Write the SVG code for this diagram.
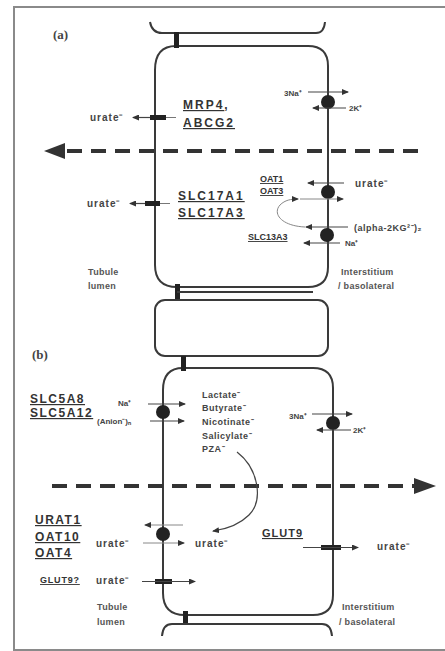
<svg xmlns="http://www.w3.org/2000/svg" width="445" height="651" viewBox="0 0 445 651">
<defs>
<marker id="ah" markerWidth="7" markerHeight="6" refX="6" refY="3" orient="auto" markerUnits="userSpaceOnUse"><path d="M0,0 L7,3 L0,6 z" fill="#333"/></marker>
<style>
.mem{fill:none;stroke:#3a3a3a;stroke-width:2}
.blk{fill:#222}
.ar{stroke:#444;stroke-width:1.2;fill:none;marker-end:url(#ah)}
.arl{stroke:#888;stroke-width:1;fill:none;marker-end:url(#ah)}
.ln{stroke:#777;stroke-width:1;fill:none}
.dash{stroke:#333;stroke-width:4;stroke-dasharray:15 9;fill:none}
.t{font-family:"Liberation Sans",Arial,sans-serif;font-weight:bold;fill:#333}
.big{font-size:12px;letter-spacing:2px;text-decoration:underline}
.mid{font-size:9px;text-decoration:underline}
.sm{font-size:8px;fill:#444}
.u{font-size:10px;letter-spacing:1px;fill:#444}
.sub{font-size:9px;letter-spacing:0.5px;fill:#444}
.loc{font-size:9px;fill:#555;letter-spacing:0.3px}
.pl{font-family:"Liberation Serif","Times New Roman",serif;font-size:13px;font-weight:bold;fill:#444}
</style>
</defs>
<rect x="0" y="0" width="445" height="651" fill="#fff"/>
<rect x="14" y="7" width="440" height="643" fill="#fff" stroke="#8a8a8a" stroke-width="2"/>

<g id="panel-a-cell">
<path class="mem" d="M150,22 Q152,33 162,33 H316 Q324,33 325,22"/>
<path class="mem" d="M176,46 H308 Q328,46 328,66 V267 Q328,287 308,287 H177 Q155,287 155,265 V70 Q155,46 176,46 Z"/>
<rect class="blk" x="174" y="32" width="5" height="16"/>
<rect class="blk" x="175" y="284" width="5" height="15"/>
<path class="mem" d="M177,292 H313"/>
<rect class="mem" x="155" y="300" width="173" height="56" rx="10"/>
<text class="pl" x="53" y="39">(a)</text>
</g>

<g id="panel-b-cell">
<path class="mem" d="M183,368 H313 Q333,368 333,388 V595 Q333,615 313,615 H185 Q163,615 163,593 V390 Q163,368 183,368 Z"/>
<rect class="blk" x="181" y="356" width="5" height="15"/>
<rect class="blk" x="183" y="611" width="5" height="14"/>
<path class="mem" d="M162,636 Q163,624 172,624 H322 Q331,624 332,636"/>
<text class="pl" x="32" y="359">(b)</text>
</g>

<g id="connectors">
<path class="dash" d="M418,151 H62"/>
<polygon points="44,151 65,143 65,159" fill="#333"/>
<path class="dash" d="M52,486 H414"/>
<polygon points="436,486 414,478 414,494" fill="#333"/>
</g>

<g id="mrp4">
<rect class="blk" x="150" y="115" width="16" height="5"/>
<path class="ar" d="M150,117.5 H133"/>
<path class="ln" d="M166,117.5 H176"/>
<text class="t u" x="90" y="121">urate⁻</text>
<text class="t big" x="183" y="109">MRP4<tspan style="letter-spacing:0">,</tspan></text>
<text class="t big" x="183" y="127">ABCG2</text>
</g>

<g id="nak-a">
<circle class="blk" cx="328" cy="102" r="7"/>
<path class="ar" d="M308,92 H348"/>
<path class="ar" d="M346,108 H313"/>
<text class="t sm" x="284" y="96">3Na⁺</text>
<text class="t sm" x="349" y="111">2K⁺</text>
</g>

<g id="slc17a">
<rect class="blk" x="145" y="201" width="15" height="5"/>
<path class="ar" d="M145,203.5 H130"/>
<path class="ln" d="M160,203.5 H170"/>
<text class="t u" x="87" y="207">urate⁻</text>
<text class="t big" x="178" y="200">SLC17A1</text>
<text class="t big" x="178" y="217">SLC17A3</text>
</g>

<g id="oat13">
<circle class="blk" cx="328" cy="192" r="7"/>
<path class="ar" d="M344,183 H308"/>
<path class="arl" d="M300,199 H343"/>
<path class="arl" d="M305,227 C282,226 272,214 280,205 C285,200 291,199 298,199"/>
<text class="t u" x="355" y="187">urate⁻</text>
<text class="t mid" x="260" y="182">OAT1</text>
<text class="t mid" x="260" y="194">OAT3</text>
</g>

<g id="slc13a3">
<circle class="blk" cx="327" cy="235" r="7"/>
<path class="ar" d="M348,227 H306"/>
<path class="ar" d="M340,243 H304" stroke-width="1.6"/>
<text class="t sub" x="354" y="231">(alpha-2KG²⁻)₂</text>
<text class="t sm" x="345" y="246">Na⁺</text>
<text class="t mid" x="248" y="240">SLC13A3</text>
</g>

<g id="loc-a">
<text class="t loc" x="88" y="275">Tubule</text>
<text class="t loc" x="88" y="289">lumen</text>
<text class="t loc" x="341" y="275">Interstitium</text>
<text class="t loc" x="338" y="289">/ basolateral</text>
</g>

<g id="slc5a">
<circle class="blk" cx="163" cy="412" r="7"/>
<path class="ar" d="M148,404 H185"/>
<path class="ar" d="M150,421 H184"/>
<text class="t sm" x="118" y="406">Na⁺</text>
<text class="t sm" x="97" y="424">(Anion⁻)ₙ</text>
<text class="t big" x="30" y="403" style="letter-spacing:1.5px">SLC5A8</text>
<text class="t big" x="30" y="417" style="letter-spacing:1.5px">SLC5A12</text>
<text class="t sub" x="202" y="398">Lactate⁻</text>
<text class="t sub" x="202" y="411">Butyrate⁻</text>
<text class="t sub" x="202" y="425">Nicotinate⁻</text>
<text class="t sub" x="202" y="439">Salicylate⁻</text>
<text class="t sub" x="202" y="452">PZA⁻</text>
<path class="ar" d="M237,452 C258,468 264,500 249,515 C240,524 228,529 213,531"/>
</g>

<g id="nak-b">
<circle class="blk" cx="333" cy="423" r="7"/>
<path class="ar" d="M312,414 H352"/>
<path class="ar" d="M351,430 H317"/>
<text class="t sm" x="289" y="419">3Na⁺</text>
<text class="t sm" x="353" y="433">2K⁺</text>
</g>

<g id="urat1">
<circle class="blk" cx="163" cy="534" r="7"/>
<path class="arl" d="M183,525 H145"/>
<path class="arl" d="M143,543 H184"/>
<text class="t u" x="96" y="547">urate⁻</text>
<text class="t u" x="195" y="547">urate⁻</text>
<text class="t big" x="35" y="524" style="letter-spacing:1.5px">URAT1</text>
<text class="t big" x="35" y="541" style="letter-spacing:1.5px">OAT10</text>
<text class="t big" x="35" y="557" style="letter-spacing:1.5px">OAT4</text>
</g>

<g id="glut9-apical">
<rect class="blk" x="155" y="579" width="17" height="5"/>
<path class="ar" d="M142,581.5 H195"/>
<text class="t u" x="96" y="584">urate⁻</text>
<text class="t mid" x="40" y="583" style="letter-spacing:0.8px">GLUT9?</text>
</g>

<g id="glut9">
<rect class="blk" x="321" y="545" width="20" height="5"/>
<path class="ar" d="M303,547.5 H358"/>
<text class="t u" x="377" y="550">urate⁻</text>
<text class="t" x="262" y="537" style="font-size:11px;letter-spacing:1px;text-decoration:underline">GLUT9</text>
</g>

<g id="loc-b">
<text class="t loc" x="97" y="610">Tubule</text>
<text class="t loc" x="97" y="625">lumen</text>
<text class="t loc" x="342" y="610">Interstitium</text>
<text class="t loc" x="339" y="625">/ basolateral</text>
</g>
</svg>
